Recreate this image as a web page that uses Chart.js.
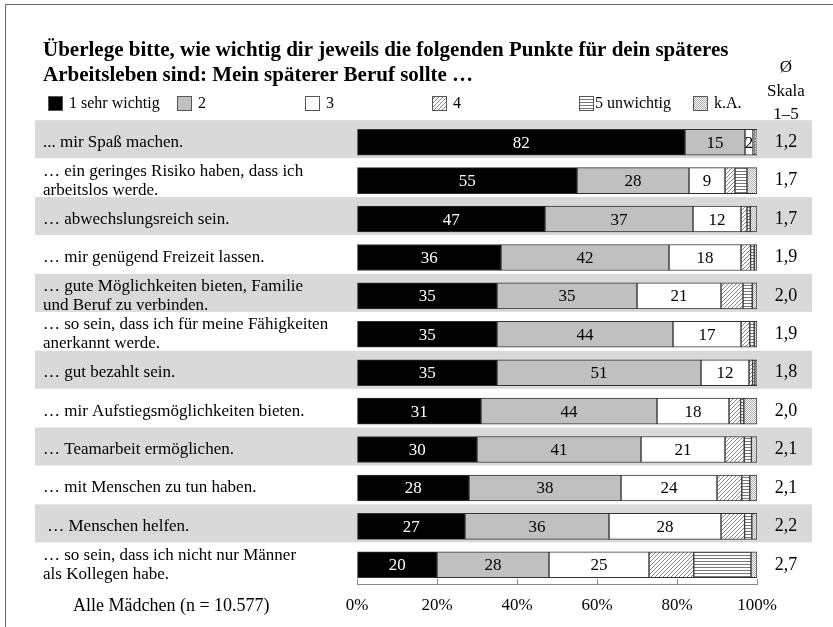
<!DOCTYPE html>
<html>
<head>
<meta charset="utf-8">
<script src="https://cdn.jsdelivr.net/npm/chart.js@4/dist/chart.umd.min.js"></script>
<style>
  html, body { margin: 0; padding: 0; background: #fff; }
  canvas { display: block; }
</style>
</head>
<body>
<canvas id="berufChart" width="833" height="627"></canvas>
<script>
const categories = [
    ['... mir Spaß machen.'],
    ['… ein geringes Risiko haben, dass ich', 'arbeitslos werde.'],
    ['… abwechslungsreich sein.'],
    ['… mir genügend Freizeit lassen.'],
    ['… gute Möglichkeiten bieten, Familie', 'und Beruf zu verbinden.'],
    ['… so sein, dass ich für meine Fähigkeiten', 'anerkannt werde.'],
    ['… gut bezahlt sein.'],
    ['… mir Aufstiegsmöglichkeiten bieten.'],
    ['… Teamarbeit ermöglichen.'],
    ['… mit Menschen zu tun haben.'],
    [' … Menschen helfen.'],
    ['… so sein, dass ich nicht nur Männer', 'als Kollegen habe.']
];
const seriesNames = ['1 sehr wichtig', '2', '3', '4', '5 unwichtig', 'k.A.'];
const sehrWichtig = [82, 55, 47, 36, 35, 35, 35, 31, 30, 28, 27, 20];
const wert2 = [15, 28, 37, 42, 35, 44, 51, 44, 41, 38, 36, 28];
const wert3 = [2, 9, 12, 18, 21, 17, 12, 18, 21, 24, 28, 25];
const wert4 = [0.5, 2.5, 1.5, 2.4, 5.5, 2.2, 0.9, 2.9, 4.8, 6.2, 5.9, 11.2];
const unwichtig = [0.3, 3, 0.8, 0.9, 2.3, 1.1, 0.6, 0.8, 1.8, 2, 1.8, 14.3];
const keineAngabe = [0.2, 2.5, 1.7, 0.7, 1.2, 0.7, 0.5, 3.3, 1.4, 1.8, 1.3, 1.5];
const mittelwerte = [1.2, 1.7, 1.7, 1.9, 2.0, 1.9, 1.8, 2.0, 2.1, 2.1, 2.2, 2.7];
const xTicks = [0, 20, 40, 60, 80, 100];

const FONT = "'Liberation Serif', 'Times New Roman', serif";

// fill patterns for 4 / 5 / k.A.
function makePattern(kind) {
    const c = document.createElement('canvas');
    const g = c.getContext('2d');
    if (kind === 'hatch') {
        c.width = 4; c.height = 4;
        g.fillStyle = '#fff'; g.fillRect(0, 0, 4, 4);
        g.strokeStyle = '#888'; g.lineWidth = 1;
        g.beginPath();
        g.moveTo(0, 4); g.lineTo(4, 0);
        g.moveTo(-1, 1); g.lineTo(1, -1);
        g.moveTo(3, 5); g.lineTo(5, 3);
        g.stroke();
    } else if (kind === 'lines') {
        c.width = 4; c.height = 3;
        g.fillStyle = '#fff'; g.fillRect(0, 0, 4, 3);
        g.fillStyle = '#777'; g.fillRect(0, 0, 4, 1);
    } else {
        c.width = 2; c.height = 2;
        g.fillStyle = '#fff'; g.fillRect(0, 0, 2, 2);
        g.fillStyle = '#aaa'; g.fillRect(0, 0, 1, 1); g.fillRect(1, 1, 1, 1);
    }
    return g.createPattern(c, 'repeat');
}

const fills = ['#000000', '#c0c0c0', '#ffffff', makePattern('hatch'), makePattern('lines'), makePattern('dots')];
const values = [sehrWichtig, wert2, wert3, wert4, unwichtig, keineAngabe];

const datasets = values.map((v, i) => ({
    label: seriesNames[i],
    data: v,
    backgroundColor: fills[i],
    borderColor: '#333',
    borderWidth: 1,
    borderSkipped: false,
    barThickness: 26
}));

const legendX = [48, 177, 305, 432, 579, 693];
const legendGap = [6, 6, 6, 6, 1, 6];

const decorPlugin = {
    id: 'decor',
    beforeDraw(chart) {
        const ctx = chart.ctx;
        const y = chart.scales.y;
        ctx.save();
        ctx.fillStyle = '#fff';
        ctx.fillRect(0, 0, chart.width, chart.height);
        // frame
        ctx.strokeStyle = '#666';
        ctx.lineWidth = 1;
        ctx.beginPath();
        ctx.moveTo(5.5, chart.height); ctx.lineTo(5.5, 4.5); ctx.lineTo(chart.width, 4.5);
        ctx.stroke();
        // title
        ctx.fillStyle = '#000';
        ctx.textBaseline = 'middle';
        ctx.textAlign = 'left';
        ctx.font = 'bold 21px ' + FONT;
        ctx.fillText('Überlege bitte, wie wichtig dir jeweils die folgenden Punkte für dein späteres', 43, 51);
        ctx.fillText('Arbeitsleben sind: Mein späterer Beruf sollte …', 43, 76);
        // legend
        ctx.font = '16px ' + FONT;
        seriesNames.forEach((name, i) => {
            ctx.fillStyle = fills[i];
            ctx.fillRect(legendX[i], 96, 15, 15);
            ctx.strokeStyle = '#555';
            ctx.strokeRect(legendX[i] + 0.5, 96.5, 14, 14);
            ctx.fillStyle = '#000';
            ctx.fillText(name, legendX[i] + 15 + legendGap[i], 104);
        });
        // average header
        ctx.textAlign = 'center';
        ctx.font = '17px ' + FONT;
        ctx.fillText('Ø', 786, 68);
        ctx.fillText('Skala', 786, 92);
        ctx.fillText('1–5', 786, 115);
        // bands, labels, averages
        categories.forEach((lines, i) => {
            const cy = y.getPixelForValue(i);
            if (i % 2 === 0) {
                ctx.fillStyle = '#d9d9d9';
                ctx.fillRect(35, cy - 22, 777, 38);
            }
            ctx.fillStyle = '#000';
            ctx.textAlign = 'left';
            ctx.font = '17px ' + FONT;
            const lh = 19;
            const top = cy - (lines.length - 1) * lh / 2;
            lines.forEach((t, k) => ctx.fillText(t, 43, top + k * lh));
            ctx.textAlign = 'center';
            ctx.font = '18px ' + FONT;
            ctx.fillText(mittelwerte[i].toFixed(1).replace('.', ','), 786, cy);
        });
        ctx.textAlign = 'left';
        ctx.font = '18px ' + FONT;
        ctx.fillText('Alle Mädchen (n = 10.577)', 73, 606);
        ctx.restore();
    },
    afterDatasetsDraw(chart) {
        const ctx = chart.ctx;
        const x = chart.scales.x;
        ctx.save();
        // value labels for 1-3
        ctx.font = '17px ' + FONT;
        ctx.textAlign = 'center';
        ctx.textBaseline = 'middle';
        [0, 1, 2].forEach(di => {
            chart.getDatasetMeta(di).data.forEach((bar, i) => {
                ctx.fillStyle = di === 0 ? '#fff' : '#000';
                ctx.fillText(String(values[di][i]), (bar.x + bar.base) / 2, bar.y + 1);
            });
        });
        // upward tick marks on x axis
        const yb = chart.chartArea.bottom;
        ctx.strokeStyle = '#888';
        ctx.lineWidth = 1;
        ctx.beginPath();
        xTicks.forEach(t => {
            const px = Math.round(x.getPixelForValue(t)) + 0.5;
            ctx.moveTo(px, yb); ctx.lineTo(px, yb - 5);
        });
        ctx.stroke();
        ctx.restore();
    }
};

new Chart(document.getElementById('berufChart'), {
    type: 'bar',
    data: {
        labels: categories.map(c => c.join(' ')),
        datasets: datasets
    },
    options: {
        indexAxis: 'y',
        responsive: false,
        animation: false,
        layout: {
            padding: { left: 357, right: 76, top: 123, bottom: 0 }
        },
        plugins: {
            legend: { display: false },
            title: { display: false },
            tooltip: { enabled: false }
        },
        scales: {
            x: {
                stacked: true,
                min: 0,
                max: 100,
                afterBuildTicks: s => { s.ticks = xTicks.map(v => ({ value: v })); },
                afterFit: s => { s.height = 43; },
                ticks: {
                    color: '#000',
                    font: { family: FONT, size: 17 },
                    padding: 11,
                    maxRotation: 0,
                    callback: v => v + '%'
                },
                grid: { drawOnChartArea: false, drawTicks: false },
                border: { display: true, color: '#888', width: 1 }
            },
            y: {
                stacked: true,
                display: false
            }
        }
    },
    plugins: [decorPlugin]
});
</script>
</body>
</html>
